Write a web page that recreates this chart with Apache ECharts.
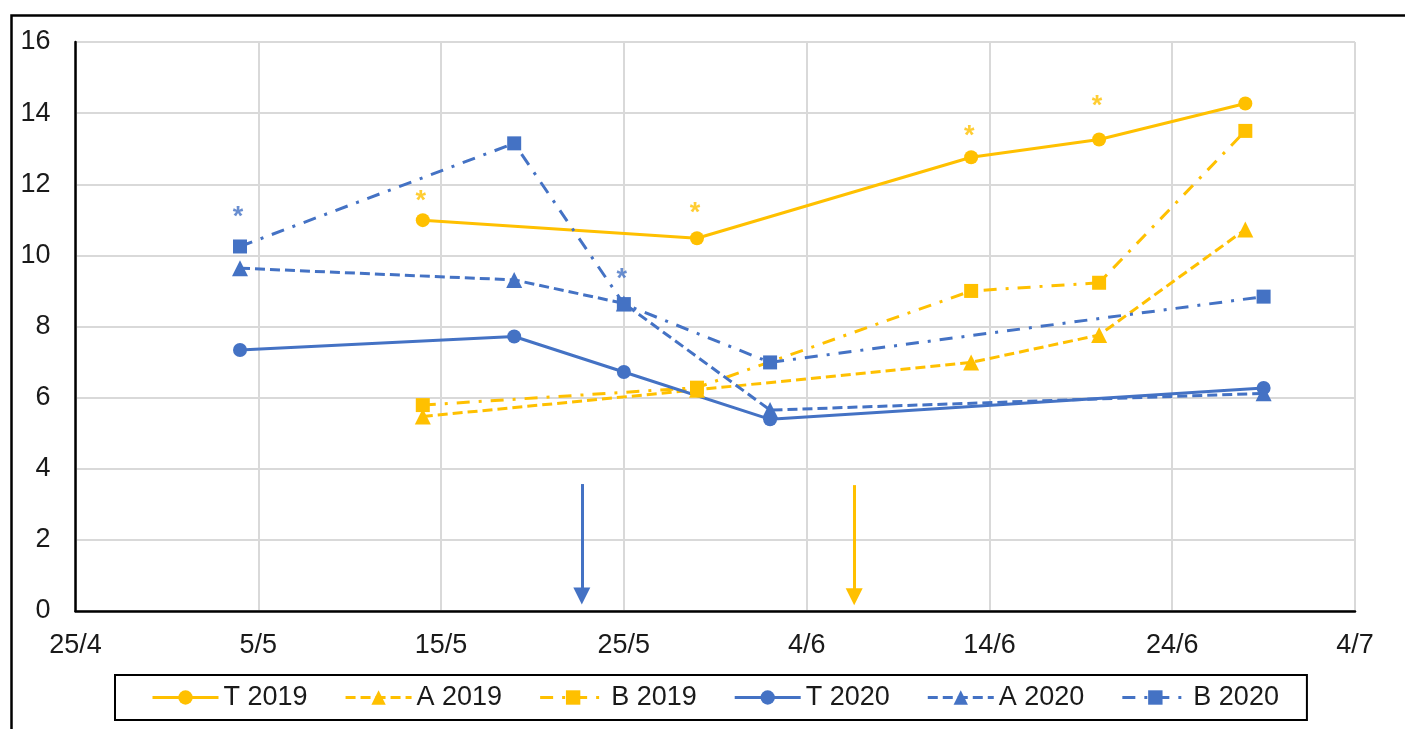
<!DOCTYPE html>
<html>
<head>
<meta charset="utf-8">
<script src="https://cdn.jsdelivr.net/npm/echarts@6/dist/echarts.min.js"></script>
<style>
html,body{margin:0;padding:0;background:#fff;}
#chart{width:1405px;height:729px;}
</style>
</head>
<body>
<div id="chart"></div>
<script>
// ---- data (dates are day/month) ----
const dates2019 = ['14/5', '29/5', '13/6', '20/6', '28/6'];
const T2019 = [10.99, 10.48, 12.76, 13.26, 14.27];
const A2019 = [5.47, 6.22, 6.99, 7.76, 10.73];
const B2019 = [5.79, 6.28, 9.00, 9.23, 13.50];

const dates2020 = ['4/5', '19/5', '25/5', '2/6', '29/6'];
const T2020 = [7.34, 7.72, 6.72, 5.39, 6.27];
const A2020 = [9.64, 9.31, 8.65, 5.65, 6.12];
const B2020 = [10.25, 13.15, 8.63, 6.99, 8.84];

const starDates2019 = ['14/5', '29/5', '13/6', '20/6'];
const starValues2019 = [11.70, 11.37, 13.54, 14.39];
const starDates2020 = ['4/5', '25/5'];
const starValues2020 = [11.27, 9.52];

const arrowDates = ['22.7/5', '6.6/6'];
const arrowTop = [3.57, 3.54];
const arrowBottom = [0.42, 0.40];

const xTickLabels = ['25/4', '5/5', '15/5', '25/5', '4/6', '14/6', '24/6', '4/7'];
const yTicks = [0, 2, 4, 6, 8, 10, 12, 14, 16];

const YEAR = 2020;
const ORIGIN = Date.UTC(YEAR, 3, 25);
function dayOf(s) {
  const p = s.split('/');
  const d = parseFloat(p[0]);
  const m = parseInt(p[1], 10);
  return (Date.UTC(YEAR, m - 1, 1) - ORIGIN) / 86400000 + (d - 1);
}
function labelOf(v) {
  const dt = new Date(ORIGIN + Math.round(v) * 86400000);
  return dt.getUTCDate() + '/' + (dt.getUTCMonth() + 1);
}
function pairs(dates, vals) { return dates.map((d, i) => [dayOf(d), vals[i]]); }

const YEL = '#FFC000';
const BLU = '#4472C4';
const FONT = '"Liberation Sans", Arial, sans-serif';
const TXT = '#1a1a1a';
const DASH = [10, 5];
const DASHDOT = [13, 9, 3, 9];

function lineSeries(name, dates, vals, color, type, symbol, size) {
  return {
    name: name, type: 'line', data: pairs(dates, vals),
    symbol: symbol, symbolSize: size,
    itemStyle: { color: color },
    lineStyle: { color: color, width: 3, type: type },
    z: 3
  };
}

const xMin = dayOf(xTickLabels[0]);
const xMax = dayOf(xTickLabels[xTickLabels.length - 1]);

const chart = echarts.init(document.getElementById('chart'), null, { renderer: 'canvas' });
chart.setOption({
  animation: false,
  backgroundColor: '#fff',
  grid: { left: 75.5, right: 50, top: 42, bottom: 118, containLabel: false },
  graphic: [{
    type: 'rect', left: 9, top: 13,
    shape: { width: 1450, height: 800 },
    style: { fill: 'none', stroke: '#000', lineWidth: 2.5 },
    z: 100
  }],
  xAxis: {
    type: 'value', min: xMin, max: xMax, interval: 10,
    axisLine: { show: true, onZero: false, lineStyle: { color: '#000', width: 2.5 } },
    axisTick: { show: false },
    splitLine: { show: true, lineStyle: { color: '#d9d9d9', width: 2 } },
    axisLabel: {
      margin: 21, fontSize: 27, fontFamily: FONT, color: TXT,
      formatter: v => labelOf(v)
    }
  },
  yAxis: {
    type: 'value', min: yTicks[0], max: yTicks[yTicks.length - 1], interval: 2,
    axisLine: { show: true, lineStyle: { color: '#000', width: 2.5 } },
    axisTick: { show: false },
    splitLine: { show: true, lineStyle: { color: '#d9d9d9', width: 2 } },
    axisLabel: { margin: 25, fontSize: 27, fontFamily: FONT, color: TXT }
  },
  legend: {
    data: ['T 2019', 'A 2019', 'B 2019', 'T 2020', 'A 2020', 'B 2020'],
    left: 115, top: 675,
    orient: 'horizontal',
    borderColor: '#000', borderWidth: 2, borderRadius: 0,
    padding: [9, 28, 9, 36],
    itemWidth: 66, itemHeight: 18, itemGap: 36.5,
    lineStyle: { width: 3 },
    textStyle: { fontSize: 27, fontFamily: FONT, color: TXT, padding: [2, 0, 0, 0] },
    selectedMode: false
  },
  series: [
    lineSeries('T 2019', dates2019, T2019, YEL, 'solid', 'circle', 14),
    lineSeries('A 2019', dates2019, A2019, YEL, DASH, 'triangle', 16),
    lineSeries('B 2019', dates2019, B2019, YEL, DASHDOT, 'rect', 14),
    lineSeries('T 2020', dates2020, T2020, BLU, 'solid', 'circle', 14),
    lineSeries('A 2020', dates2020, A2020, BLU, DASH, 'triangle', 16),
    lineSeries('B 2020', dates2020, B2020, BLU, DASHDOT, 'rect', 14),
    {
      name: 'sig2019', type: 'scatter', data: pairs(starDates2019, starValues2019),
      symbolSize: 1, itemStyle: { color: 'rgba(0,0,0,0)' },
      label: { show: true, position: 'inside', formatter: '*', color: YEL, fontSize: 27, fontWeight: 'bold', fontFamily: FONT, offset: [-2, 7] },
      silent: true, z: 4
    },
    {
      name: 'sig2020', type: 'scatter', data: pairs(starDates2020, starValues2020),
      symbolSize: 1, itemStyle: { color: 'rgba(0,0,0,0)' },
      label: { show: true, position: 'inside', formatter: '*', color: BLU, fontSize: 27, fontWeight: 'bold', fontFamily: FONT, offset: [-2, 7] },
      silent: true, z: 4
    },
    {
      name: 'arrows', type: 'line', data: [], silent: true,
      markLine: {
        silent: true, symbol: ['none', 'triangle'], symbolSize: [17, 17],
        label: { show: false },
        data: arrowDates.map((d, i) => [
          { coord: [dayOf(d), arrowTop[i]], lineStyle: { color: i === 0 ? BLU : YEL, width: 3, type: 'solid' }, itemStyle: { color: i === 0 ? BLU : YEL } },
          { coord: [dayOf(d), arrowBottom[i]] }
        ])
      }
    }
  ]
});
</script>
</body>
</html>
